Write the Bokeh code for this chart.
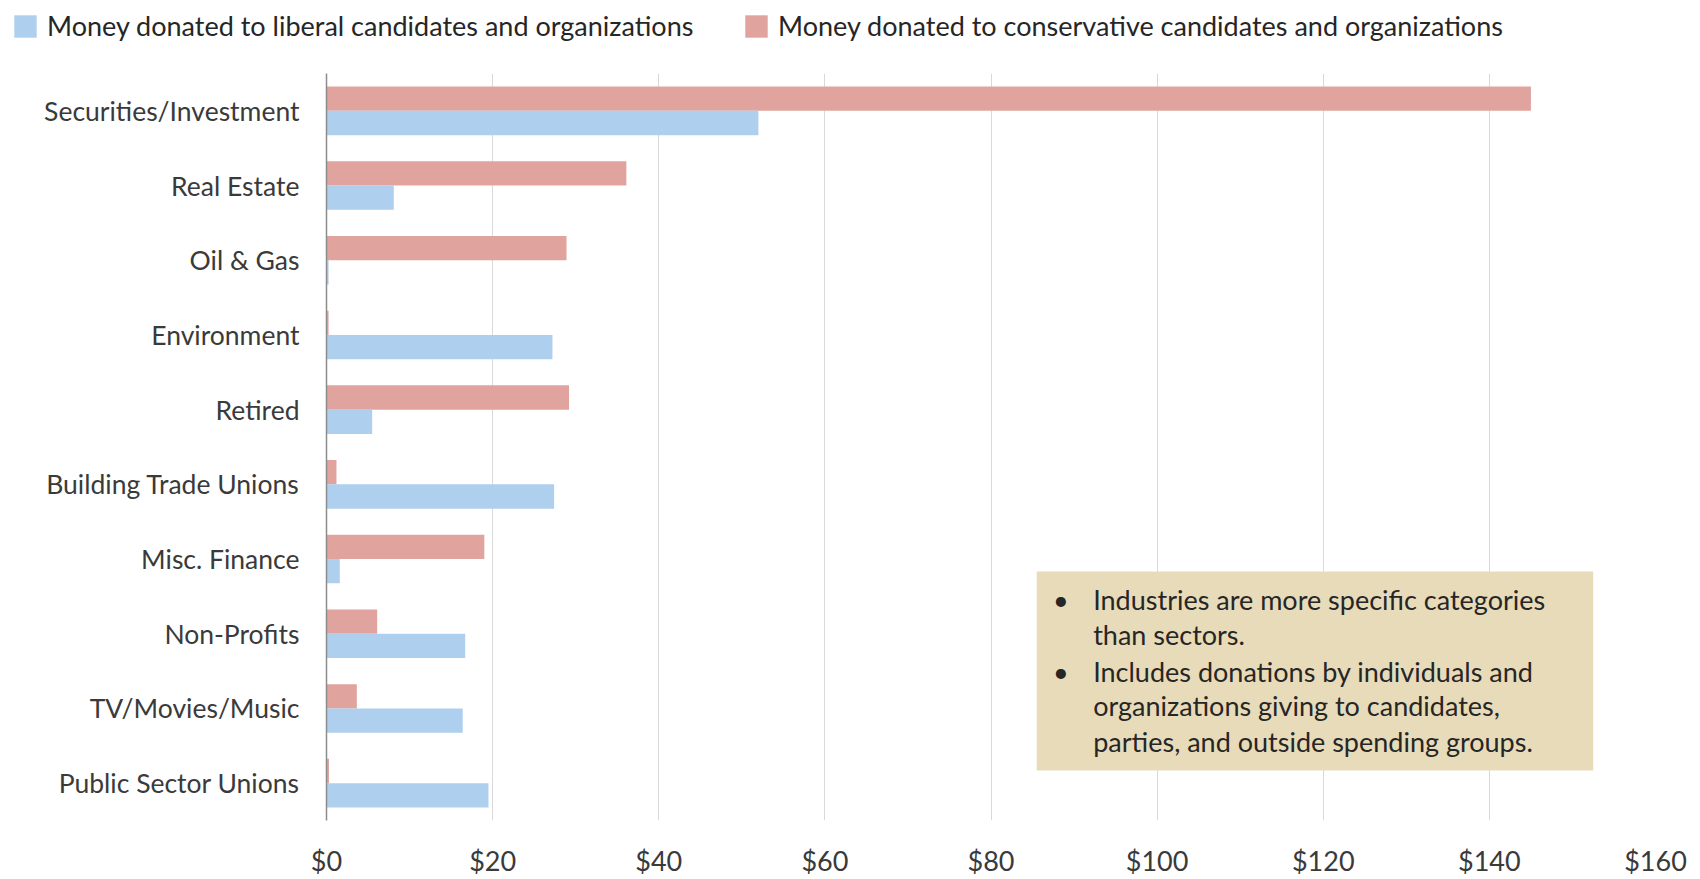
from bokeh.plotting import figure
from bokeh.layouts import column
from bokeh.models import (FactorRange, Range1d, Legend, LegendItem, BoxAnnotation,
                          Label, NumeralTickFormatter, ColumnDataSource, FixedTicker)
from bokeh.transform import dodge
from bokeh.embed import file_html
from bokeh.resources import INLINE

categories = ["Securities/Investment", "Real Estate", "Oil & Gas", "Environment", "Retired",
              "Building Trade Unions", "Misc. Finance", "Non-Profits", "TV/Movies/Music",
              "Public Sector Unions"]
liberal = [52.0, 8.1, 0.25, 27.2, 5.5, 27.4, 1.6, 16.7, 16.4, 19.5]
conservative = [145.0, 36.1, 28.9, 0.25, 29.2, 1.2, 19.0, 6.1, 3.65, 0.3]
x_ticks = [0, 20, 40, 60, 80, 100, 120, 140, 160]
legend_labels = ["Money donated to liberal candidates and organizations",
                 "Money donated to conservative candidates and organizations"]
note_lines = ["Industries are more specific categories", "than sectors.",
              "Includes donations by individuals and", "organizations giving to candidates,",
              "parties, and outside spending groups."]
note_bullets = [True, False, True, False, False]

BLUE = "#AECFEE"
RED = "#E0A39E"
TXT = "#3A3A3A"
FONT = "Lato"
W = 1691

src = ColumnDataSource(dict(cat=categories, lib=liberal, con=conservative))

p = figure(y_range=FactorRange(factors=list(reversed(categories))),
           x_range=Range1d(0, 160),
           frame_width=1329, frame_height=747,
           min_border_left=326, min_border_right=36, min_border_top=13, min_border_bottom=40,
           output_backend="svg", toolbar_location=None)
p.outline_line_color = None
p.frame_align = False

r_con = p.hbar(y=dodge("cat", 0.1625, range=p.y_range), right="con", height=0.325, left=0,
               source=src, fill_color=RED, line_color=None)
r_lib = p.hbar(y=dodge("cat", -0.1625, range=p.y_range), right="lib", height=0.325, left=0,
               source=src, fill_color=BLUE, line_color=None)

# axes
p.xaxis.ticker = FixedTicker(ticks=x_ticks)
p.xaxis.formatter = NumeralTickFormatter(format="$0")
p.xaxis.axis_line_color = None
p.xaxis.major_tick_line_color = None
p.xaxis.minor_tick_line_color = None
p.xaxis.major_label_standoff = 17
p.xaxis.major_label_text_font = FONT
p.xaxis.major_label_text_font_size = "27px"
p.xaxis.major_label_text_color = TXT

p.yaxis.axis_line_color = "#8C8C8C"
p.yaxis.axis_line_width = 1.5
p.yaxis.major_tick_line_color = None
p.yaxis.minor_tick_line_color = None
p.yaxis.major_label_standoff = 21
p.yaxis.major_label_text_font = FONT
p.yaxis.major_label_text_font_size = "26.5px"
p.yaxis.major_label_text_color = TXT

p.xgrid.grid_line_color = "#D9D9D9"
p.xgrid.grid_line_width = 1
p.ygrid.grid_line_color = None

# note box
box = BoxAnnotation(left=85.5, right=152.5, bottom=0.67, top=3.335,
                    fill_color="#E8DBB9", fill_alpha=1, line_alpha=0)
p.add_layout(box)

line_y = [2.96, 2.485, 2.00, 1.535, 1.06]
for txt, bul, yy in zip(note_lines, note_bullets, line_y):
    p.add_layout(Label(x=92.3, y=yy, text=txt, text_font=FONT, text_font_size="27px",
                       text_color="#262626", text_baseline="middle", text_align="left"))
    if bul:
        p.add_layout(Label(x=88.4, y=yy, text="\u2022", text_font=FONT, text_font_size="27px",
                           text_color="#262626", text_baseline="middle", text_align="center"))

# legend strip (separate figure above the chart)
lf = figure(width=W, height=60, x_range=Range1d(0, 1), y_range=Range1d(0, 1),
            x_axis_type=None, y_axis_type=None, min_border=0,
            output_backend="svg", toolbar_location=None)
lf.frame_align = False
lf.outline_line_color = None
lf.xgrid.grid_line_color = None
lf.ygrid.grid_line_color = None
# legend swatches only (kept outside the visible range of this strip)
d_lib = lf.hbar(y=[-5], right=[-5], left=[-6], height=0.1, fill_color=BLUE, line_color=None)
d_con = lf.hbar(y=[-5], right=[-5], left=[-6], height=0.1, fill_color=RED, line_color=None)
for (r, lab, xloc) in [(d_lib, legend_labels[0], 11), (d_con, legend_labels[1], 742)]:
    lg = Legend(items=[LegendItem(label=lab, renderers=[r])], location=(xloc, 18),
                orientation="horizontal", padding=0, margin=0, spacing=0,
                glyph_width=28, glyph_height=28, label_height=28, label_standoff=8,
                label_text_font=FONT, label_text_font_size="27px", label_text_color="#262626",
                border_line_color=None, background_fill_alpha=0)
    lf.add_layout(lg)

layout = column(lf, p, spacing=0)
open("out.html", "w").write(file_html(layout, INLINE))
